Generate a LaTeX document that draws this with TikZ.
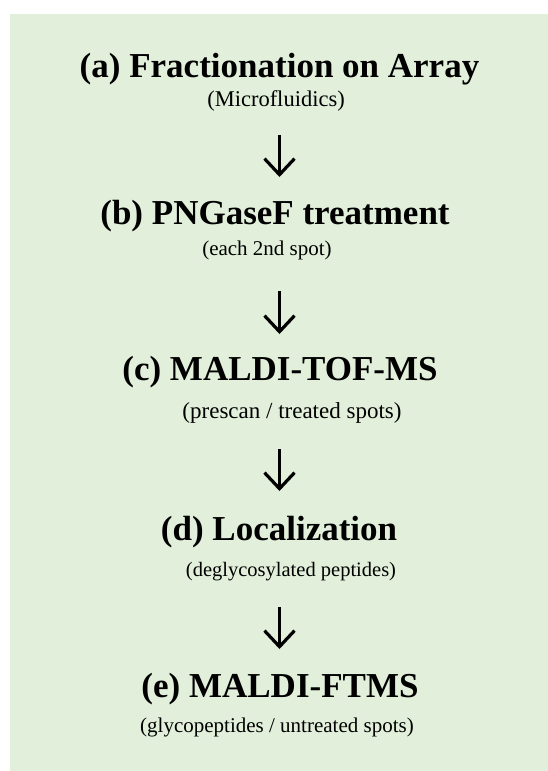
\documentclass[tikz,border=0pt]{standalone}
\usepackage{fontspec}
\setmainfont{Liberation Serif}
\usetikzlibrary{arrows.meta}
\definecolor{bggreen}{HTML}{E2EFDA}
\tikzset{
  titletext/.style={anchor=base, inner sep=0pt, font=\fontsize{35}{42}\selectfont\bfseries},
  subtext/.style={anchor=base, inner sep=0pt, font=\fontsize{#1}{26}\selectfont},
  flowarrow/.style={line width=3.2pt, -{Straight Barb[length=16pt,width=30pt,sharp]}}
}
\begin{document}
\begin{tikzpicture}[x=1pt,y=-1pt]
\useasboundingbox (0,0) rectangle (548,771);
\fill[white] (0,0) rectangle (548,771);
\fill[bggreen] (10,14) rectangle (548,771);
% steps
\node[titletext] (ta) at (279.5,77) {(a) Fractionation on Array};
\node[subtext=22.5] (sa) at (276,106) {(Microfluidics)};
\node[titletext] (tb) at (275,224) {(b) PNGaseF treatment};
\node[subtext=21] (sb) at (267,255) {(each 2nd spot)};
\node[titletext] (tc) at (280,380) {(c) MALDI-TOF-MS};
\node[subtext=23] (sc) at (292,418) {(prescan / treated spots)};
\node[titletext] (td) at (279,540) {(d) Localization};
\node[subtext=20.5] (sd) at (291,576) {(deglycosylated peptides)};
\node[titletext] (te) at (280,697) {(e) MALDI-FTMS};
\node[subtext=21] (se) at (277,732) {(glycopeptides / untreated spots)};
% arrows
\coordinate (a1s) at (279.5,135); \coordinate (a1e) at (279.5,177);
\coordinate (a2s) at (279.5,291); \coordinate (a2e) at (279.5,334);
\coordinate (a3s) at (279.5,449); \coordinate (a3e) at (279.5,491);
\coordinate (a4s) at (279.5,607); \coordinate (a4e) at (279.5,649);
\draw[flowarrow] (a1s) -- (a1e);
\draw[flowarrow] (a2s) -- (a2e);
\draw[flowarrow] (a3s) -- (a3e);
\draw[flowarrow] (a4s) -- (a4e);
\end{tikzpicture}
\end{document}
